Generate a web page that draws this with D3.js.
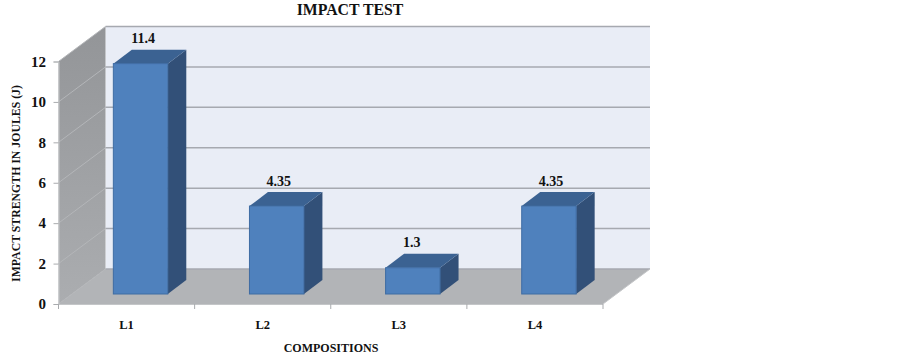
<!DOCTYPE html>
<html>
<head>
<meta charset="utf-8">
<script src="https://cdn.jsdelivr.net/npm/d3@7"></script>
<style>
  html, body { margin: 0; padding: 0; background: #fff; }
  text { font-family: "Liberation Serif", serif; font-weight: bold; fill: #111; }
</style>
</head>
<body>
<div id="chart"></div>
<script>
const categories = ["L1", "L2", "L3", "L4"];
const values = [11.4, 4.35, 1.3, 4.35];
const valueLabels = ["11.4", "4.35", "1.3", "4.35"];
const yTicks = [0, 2, 4, 6, 8, 10, 12];

const width = 903;
const height = 355;

const x = d3.scaleBand().domain(categories).range([58.5, 603]).paddingInner(0.6).paddingOuter(0.3);
const xEdges = d3.scaleLinear().domain([0, categories.length]).range([58.5, 603]);
const y = d3.scaleLinear().domain([0, 12]).range([304, 61.5]);

// offset of the back wall from the front of the box
const depthX = 47, depthY = -35;
// bars sit in the middle of the floor
const barShiftX = 14, barShiftY = -10, barDepthX = 18.5, barDepthY = -14;
// value labels are not quite centred over the bars
const labelNudge = [2.5, 2, -1, 2];

const svg = d3.select("#chart").append("svg")
  .attr("width", width)
  .attr("height", height)
  .style("display", "block");

const defs = svg.append("defs");
const wallGrad = defs.append("linearGradient").attr("id", "wall")
  .attr("x1", 0).attr("y1", 0).attr("x2", 0).attr("y2", 1);
wallGrad.append("stop").attr("offset", "0%").attr("stop-color", "#939598");
wallGrad.append("stop").attr("offset", "100%").attr("stop-color", "#abadb0");

const poly = pts => pts.map(p => p.join(",")).join(" ");

// back wall
svg.append("polygon")
  .attr("points", poly([
    [58.5 + depthX, y(12) + depthY], [603 + depthX, y(12) + depthY],
    [603 + depthX, y(0) + depthY], [58.5 + depthX, y(0) + depthY]
  ]))
  .attr("fill", "#e9edf6");

// side wall
svg.append("polygon")
  .attr("points", poly([
    [58.5, y(12)], [58.5 + depthX, y(12) + depthY],
    [58.5 + depthX, y(0) + depthY], [58.5, y(0)]
  ]))
  .attr("fill", "url(#wall)");

// floor
svg.append("polygon")
  .attr("points", poly([
    [58.5, y(0)], [58.5 + depthX, y(0) + depthY],
    [603 + depthX, y(0) + depthY], [603, y(0)]
  ]))
  .attr("fill", "#b2b4b7");

// gridlines, back wall and side wall
svg.append("g").selectAll("line")
  .data(yTicks)
  .join("line")
  .attr("x1", 58.5 + depthX)
  .attr("x2", 603 + depthX)
  .attr("y1", d => y(d) + depthY)
  .attr("y2", d => y(d) + depthY)
  .attr("stroke", "#a6a9b0")
  .attr("stroke-width", 1.5);

svg.append("g").selectAll("line")
  .data(yTicks)
  .join("line")
  .attr("x1", 58.5)
  .attr("x2", 58.5 + depthX)
  .attr("y1", d => y(d))
  .attr("y2", d => y(d) + depthY)
  .attr("stroke", "#b4b6b9")
  .attr("stroke-width", 1);

// floor right edge
svg.append("line")
  .attr("x1", 603).attr("y1", y(0))
  .attr("x2", 603 + depthX).attr("y2", y(0) + depthY)
  .attr("stroke", "#c4c6c8");

// bars
const bars = svg.append("g").selectAll("g")
  .data(categories)
  .join("g");

function barBox(i) {
  const left = x(categories[i]) + barShiftX;
  const right = left + x.bandwidth();
  const top = y(values[i]) + barShiftY;
  const bottom = y(0) + barShiftY;
  return { left, right, top, bottom };
}

bars.append("polygon")
  .attr("points", (d, i) => {
    const b = barBox(i);
    return poly([
      [b.right, b.top], [b.right + barDepthX, b.top + barDepthY],
      [b.right + barDepthX, b.bottom + barDepthY], [b.right, b.bottom]
    ]);
  })
  .attr("fill", "#325078");

bars.append("polygon")
  .attr("points", (d, i) => {
    const b = barBox(i);
    return poly([
      [b.left, b.top], [b.left + barDepthX, b.top + barDepthY],
      [b.right + barDepthX, b.top + barDepthY], [b.right, b.top]
    ]);
  })
  .attr("fill", "#3b6292");

bars.append("rect")
  .attr("x", (d, i) => barBox(i).left)
  .attr("y", (d, i) => barBox(i).top)
  .attr("width", x.bandwidth())
  .attr("height", (d, i) => barBox(i).bottom - barBox(i).top)
  .attr("fill", "#4f81bd")
  .attr("stroke", "#3f6ca3")
  .attr("stroke-width", 1);

bars.append("text")
  .attr("x", (d, i) => barBox(i).left + x.bandwidth() / 2 + labelNudge[i])
  .attr("y", (d, i) => barBox(i).top + barDepthY - 6.5)
  .attr("text-anchor", "middle")
  .attr("font-size", 14)
  .text((d, i) => valueLabels[i]);

// y axis
const yAxis = d3.axisLeft(y).tickValues(yTicks).tickSize(5).tickPadding(7.5);
const yG = svg.append("g").attr("transform", "translate(58.5,0)").call(yAxis);
yG.select(".domain").attr("stroke", "#c4c6c8");
yG.selectAll(".tick line").attr("stroke", "#a9abae");
yG.selectAll(".tick text").attr("font-size", 15).style("font-family", '"Liberation Serif", serif');

// x axis
const xAxisLine = svg.append("g");
xAxisLine.append("line")
  .attr("x1", 58.5).attr("x2", 603)
  .attr("y1", y(0) + 0.5).attr("y2", y(0) + 0.5)
  .attr("stroke", "#c4c6c8");
xAxisLine.selectAll(".tick")
  .data(d3.range(categories.length + 1))
  .join("line")
  .attr("class", "tick")
  .attr("x1", d => xEdges(d)).attr("x2", d => xEdges(d))
  .attr("y1", y(0)).attr("y2", y(0) + 5)
  .attr("stroke", "#a9abae");

svg.append("g").selectAll("text")
  .data(categories)
  .join("text")
  .attr("x", d => x(d) + x.bandwidth() / 2)
  .attr("y", 329)
  .attr("text-anchor", "middle")
  .attr("font-size", 12.5)
  .text(d => d);

// titles
svg.append("text")
  .attr("x", 350).attr("y", 15)
  .attr("text-anchor", "middle")
  .attr("font-size", 15.8)
  .text("IMPACT TEST");

svg.append("text")
  .attr("x", 331).attr("y", 352)
  .attr("text-anchor", "middle")
  .attr("font-size", 12)
  .text("COMPOSITIONS");

svg.append("text")
  .attr("transform", "translate(20,183.5) rotate(-90)")
  .attr("text-anchor", "middle")
  .attr("font-size", 11.8)
  .text("IMPACT STRENGTH IN JOULES (J)");
</script>
</body>
</html>
